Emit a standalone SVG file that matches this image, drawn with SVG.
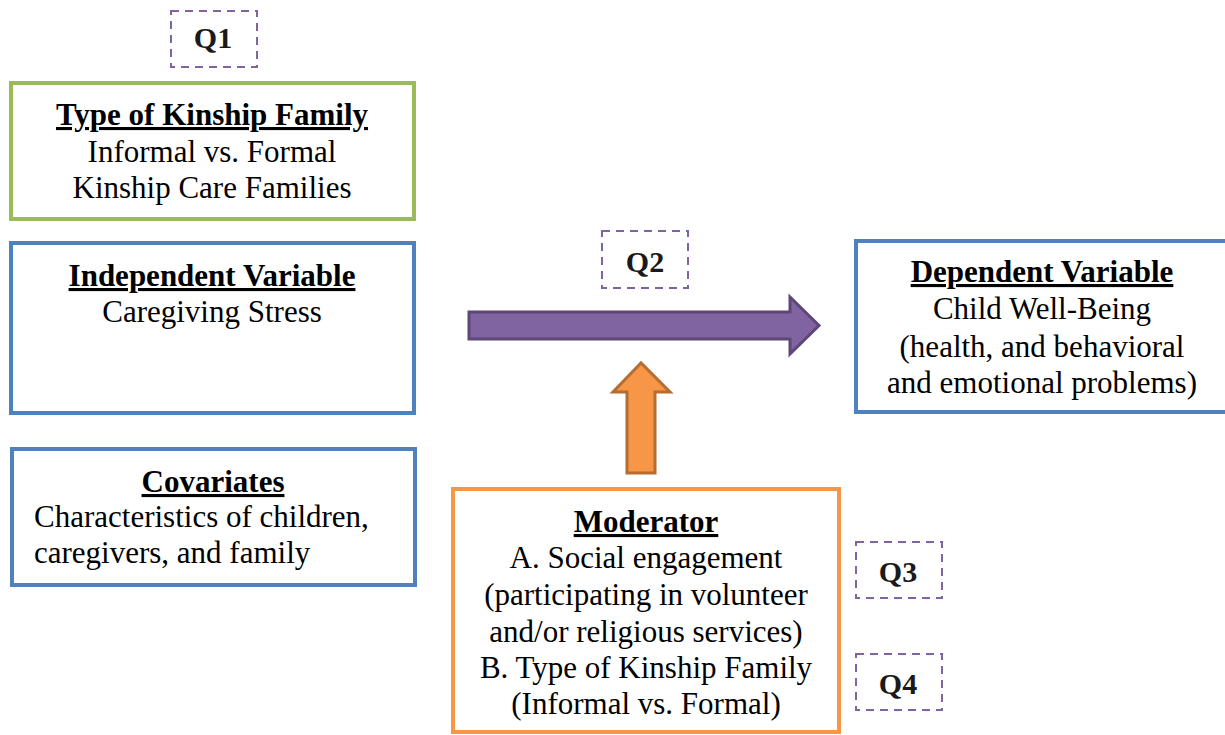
<svg xmlns="http://www.w3.org/2000/svg" width="1225" height="735" viewBox="0 0 1225 735">
<style>
.box{fill:#fff;stroke-width:4}
.blue{stroke:#4F81BD}
.green{stroke:#9BBB59}
.orange{stroke:#F79646}
.q{fill:none;stroke:#8064A2;stroke-width:2;stroke-dasharray:8 6}
text{font-family:Tinos,'Liberation Serif','Noto Serif','DejaVu Serif','Times New Roman',Times,serif;font-size:31px;fill:#000}
.t{font-weight:bold;text-decoration:underline}
.qt{font-weight:bold;font-size:30px;fill:#1a1a1a}
.c{text-anchor:middle}
</style>
<rect width="1225" height="735" fill="#fff"/>
<g id="connectors">
<path d="M469,312 L790,312 L790,297 L819,325.5 L790,354 L790,339 L469,339 Z" fill="#8064A2" stroke="#5C4776" stroke-width="3" stroke-linejoin="miter"/>
<path d="M627,473 L627,392 L613,392 L641,363 L670,392 L655,392 L655,473 Z" fill="#F79646" stroke="#B66D31" stroke-width="3"/>
</g>
<g id="q1"><rect class="q" x="171" y="11" width="86" height="56"/><text class="qt c" x="213" y="48">Q1</text></g>
<g id="q2"><rect class="q" x="602" y="231" width="86" height="57"/><text class="qt c" x="645" y="272">Q2</text></g>
<g id="q3"><rect class="q" x="856" y="542" width="86" height="56"/><text class="qt c" x="898" y="582">Q3</text></g>
<g id="q4"><rect class="q" x="856" y="654" width="86" height="56"/><text class="qt c" x="898" y="694">Q4</text></g>
<g id="type-kinship">
<rect class="box green" x="11" y="83" width="403" height="136"/>
<text class="t c" x="212" y="125">Type of Kinship Family</text>
<text class="c" x="212" y="162">Informal vs. Formal</text>
<text class="c" x="212" y="198">Kinship Care Families</text>
</g>
<g id="independent">
<rect class="box blue" x="11" y="243" width="403" height="170"/>
<text class="t c" x="212" y="286">Independent Variable</text>
<text class="c" x="212" y="322">Caregiving Stress</text>
</g>
<g id="covariates">
<rect class="box blue" x="12" y="449" width="403" height="136"/>
<text class="t c" x="213" y="492">Covariates</text>
<text x="34" y="527">Characteristics of children,</text>
<text x="34" y="563">caregivers, and family</text>
</g>
<g id="dependent">
<rect class="box blue" x="856" y="241" width="380" height="171"/>
<text class="t c" x="1042" y="282">Dependent Variable</text>
<text class="c" x="1042" y="319">Child Well-Being</text>
<text class="c" x="1042" y="357">(health, and behavioral</text>
<text class="c" x="1042" y="393">and emotional problems)</text>
</g>
<g id="moderator">
<rect class="box orange" x="453" y="489" width="386" height="243"/>
<text class="t c" x="646" y="532">Moderator</text>
<text class="c" x="646" y="568">A. Social engagement</text>
<text class="c" x="646" y="605">(participating in volunteer</text>
<text class="c" x="646" y="642">and/or religious services)</text>
<text class="c" x="646" y="678">B. Type of Kinship Family</text>
<text class="c" x="646" y="714">(Informal vs. Formal)</text>
</g>
</svg>
